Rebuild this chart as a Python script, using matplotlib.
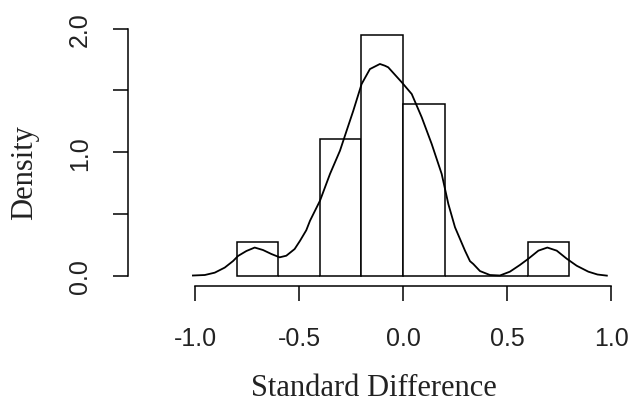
import numpy as np
import matplotlib.pyplot as plt

# histogram of standard differences (18 values, bin width 0.2)
bin_edges = [-0.8, -0.6, -0.4, -0.2, 0.0, 0.2, 0.4, 0.6, 0.8]
counts = [1, 0, 4, 7, 5, 0, 0, 1]
n_obs = 18

# density curve
kde_x = [-1.01, -0.953, -0.905, -0.857, -0.817, -0.793, -0.753, -0.713, -0.673,
         -0.633, -0.593, -0.561, -0.521, -0.495, -0.465, -0.447, -0.399, -0.351,
         -0.303, -0.271, -0.239, -0.199, -0.159, -0.111, -0.087, -0.071, -0.006,
         0.042, 0.09, 0.138, 0.186, 0.218, 0.25, 0.298, 0.322, 0.338, 0.37,
         0.418, 0.466, 0.514, 0.562, 0.603, 0.651, 0.694, 0.739, 0.787, 0.835,
         0.891, 0.935, 0.98]
kde_y = [0.004, 0.008, 0.027, 0.068, 0.121, 0.162, 0.202, 0.23, 0.21,
         0.178, 0.151, 0.164, 0.218, 0.285, 0.37, 0.447, 0.609, 0.825,
         1.013, 1.175, 1.336, 1.552, 1.673, 1.714, 1.70, 1.687, 1.566,
         1.471, 1.283, 1.067, 0.825, 0.582, 0.394, 0.205, 0.12, 0.097, 0.04,
         0.008, 0.004, 0.035, 0.089, 0.14, 0.205, 0.23, 0.205, 0.14, 0.083,
         0.035, 0.012, 0.003]

width = bin_edges[1] - bin_edges[0]
density = [c / (n_obs * width) for c in counts]

W, H = 634, 410
fig = plt.figure(figsize=(W / 100, H / 100), dpi=100)

# axes placed in pixels: y axis line at x=128, x axis line at y=287
left, right, bottom, top = 128, 634, 287, 19.7
ax = fig.add_axes([left / W, (H - bottom) / H, (right - left) / W, (bottom - top) / H])

# pixel mapping: x=-1 -> 195, 208 px per unit; y=0 -> 277, 123.7 px per unit
ax.set_xlim(-1 - (195 - left) / 208, -1 + (right - 195) / 208)
ax.set_ylim(-(bottom - 277) / 123.7, (277 - top) / 123.7)

ax.bar(bin_edges[:-1], density, width=width, align="edge",
       facecolor="white", edgecolor="black", linewidth=1.1)
ax.plot(kde_x, kde_y, color="black", linewidth=1.3)

for s in ["top", "right"]:
    ax.spines[s].set_visible(False)
ax.spines["bottom"].set_bounds(-1, 1)
ax.spines["left"].set_bounds(0, 2)
ax.spines["bottom"].set_linewidth(1.1)
ax.spines["left"].set_linewidth(1.1)

ax.set_xticks([-1.0, -0.5, 0.0, 0.5, 1.0])
ax.set_xticklabels(["-1.0", "-0.5", "0.0", "0.5", "1.0"],
                   fontfamily="Liberation Sans", fontsize=18, color="#222222")
ax.set_yticks([0, 0.5, 1.0, 1.5, 2.0])
ax.set_yticklabels(["0.0", "", "1.0", "", "2.0"],
                   fontfamily="Liberation Sans", fontsize=18, rotation=90, va="center",
                   color="#222222")
ax.tick_params(axis="both", length=11, width=1.1, color="black")
ax.tick_params(axis="x", pad=18)
ax.tick_params(axis="y", pad=15)

ax.set_xlabel("Standard Difference", fontfamily="Liberation Serif", fontsize=22,
              va="center", color="#222222")
ax.xaxis.set_label_coords(0.485, -0.378)
ax.set_ylabel("Density", fontfamily="Liberation Serif", fontsize=22,
              va="center", color="#222222")
ax.yaxis.set_label_coords(-0.204, 0.4265)

fig.savefig("out.png", dpi=100)
